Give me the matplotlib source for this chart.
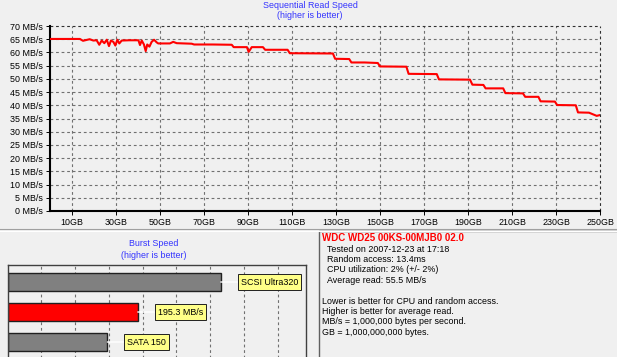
import matplotlib.pyplot as plt
from matplotlib.lines import Line2D
from matplotlib.patches import Rectangle

plt.rcParams['font.family'] = ['Liberation Sans', 'DejaVu Sans']

# sequential read curve (GB, MB/s)
gb = [0, 13.6, 15, 18, 19.7, 21.2, 22.4, 23.5, 24.7, 25.8, 26.8, 27.7, 28.8, 29.7,
      30.6, 31.5, 32.6, 36, 40.2, 40.9, 41.7, 42.7, 43.5, 44.2, 45.2, 46.2, 47.3,
      48.5, 49.2, 54.5, 56, 57.6, 64.4, 65.5, 74, 82.6, 83.5, 89.5, 90.3, 91.7,
      96.8, 97.8, 108, 109, 128.6, 129.6, 136, 137, 143, 149, 150, 162, 163,
      175.8, 176.8, 190.9, 192, 197, 198, 206, 207, 215, 216, 222, 223, 229.5,
      230.5, 239, 240, 245, 248.5, 250]
speed = [65.1, 65.1, 64.4, 65.0, 64.5, 64.6, 62.9, 64.5, 63.5, 64.8, 62.4, 64.5,
         64.0, 62.6, 64.8, 63.4, 64.5, 64.6, 64.6, 62.8, 64.5, 63.0, 60.5, 63.0,
         62.2, 64.0, 64.8, 63.8, 63.4, 63.4, 64.0, 63.5, 63.3, 63.0, 63.0, 62.9,
         62.0, 62.0, 60.2, 62.0, 62.0, 61.0, 61.0, 59.7, 59.6, 57.6, 57.5, 56.2,
         56.2, 56.0, 54.7, 54.6, 51.9, 51.8, 49.8, 49.7, 47.8, 47.7, 46.4, 46.4,
         44.6, 44.5, 43.2, 43.2, 41.5, 41.4, 40.1, 40.0, 37.3, 37.2, 36.0, 36.3]

y_ticks = list(range(0, 75, 5))
x_ticks = list(range(10, 260, 20))

# burst speed bars
burst_labels = ['SCSI Ultra320', '195.3 MB/s', 'SATA 150']
burst_values = [316, 193, 148]
burst_colors = ['#808080', '#ff0000', '#808080']

info_title = 'WDC WD25 00KS-00MJB0 02.0'
info_lines = ['Tested on 2007-12-23 at 17:18', 'Random access: 13.4ms',
              'CPU utilization: 2% (+/- 2%)', 'Average read: 55.5 MB/s']
note_lines = ['Lower is better for CPU and random access.',
              'Higher is better for average read.',
              'MB/s = 1,000,000 bytes per second.',
              'GB = 1,000,000,000 bytes.']

W, H = 617, 357
bg = '#f0f0f0'
blue = '#3333ff'
fs = 6.4

fig = plt.figure(figsize=(W / 100, H / 100), dpi=100, facecolor=bg)


def box(l, t, r, b):
    return [l / W, 1 - b / H, (r - l) / W, (b - t) / H]


# ---- sequential read chart
ax = fig.add_axes(box(50, 26, 600, 211))
ax.set_facecolor(bg)
ax.plot(gb, speed, color='#ff0000', lw=1.5, zorder=3)
ax.set_xlim(0, 250)
ax.set_ylim(0, 70)
ax.set_yticks(y_ticks)
ax.set_yticklabels([f'{v} MB/s' for v in y_ticks])
ax.set_xticks(x_ticks)
ax.set_xticklabels([f'{v}GB' for v in x_ticks])
ax.tick_params(labelsize=fs, length=3, width=0.7, pad=2, colors='black')
for v in y_ticks[1:-1]:
    ax.axhline(v, color='#707070', lw=0.8, ls=(0, (2.5, 2.5)), zorder=1)
for v in x_ticks[:-1]:
    ax.axvline(v, color='#707070', lw=0.8, ls=(0, (2.5, 2.5)), zorder=1)
for s in ['left', 'bottom']:
    ax.spines[s].set_linewidth(1.5)
for s in ['top', 'right']:
    ax.spines[s].set_visible(False)
ax.axhline(70, color='#303030', lw=0.8, ls=(0, (2.5, 2.5)), clip_on=False)
ax.axvline(250, color='#303030', lw=0.8, ls=(0, (2.5, 2.5)), clip_on=False)

fig.text(310 / W, 1 - 5 / H, 'Sequential Read Speed', color=blue, fontsize=fs,
         ha='center', va='center')
fig.text(310 / W, 1 - 16 / H, '(higher is better)', color=blue, fontsize=fs,
         ha='center', va='center')

# separator
fig.add_artist(Line2D([0, 1], [1 - 229 / H] * 2, color='#a0a0a0', lw=0.8))
fig.add_artist(Line2D([0, 1], [1 - 230.5 / H] * 2, color='white', lw=0.8))

# ---- burst speed chart
bx = fig.add_axes(box(7.5, 265, 306, 370))
bx.set_facecolor(bg)
bx.set_xlim(0, 298.5 / 0.675)
bx.set_ylim(2.933, -0.567)
for v in range(50, 450, 50):
    bx.axvline(v, color='#707070', lw=0.8, ls=(0, (2.5, 2.5)), zorder=0)
pos = list(range(len(burst_values)))
bx.barh(pos, burst_values, height=0.58, color=burst_colors,
        edgecolor='#202020', lw=1, zorder=2)
for i, (v, lab) in enumerate(zip(burst_values, burst_labels)):
    bx.annotate(lab, xy=(v, i), xytext=(20, 0), textcoords='offset pixels',
                ha='left', va='center', fontsize=fs, zorder=4,
                bbox=dict(boxstyle='square,pad=0.35', fc='#ffff88',
                          ec='#202020', lw=0.7),
                arrowprops=dict(arrowstyle='-', color='white', lw=1,
                                shrinkA=0, shrinkB=0))
bx.set_xticks([])
bx.set_yticks([])
for s in bx.spines.values():
    s.set_color('#404040')
    s.set_linewidth(1)

fig.text(154 / W, 1 - 243 / H, 'Burst Speed', color=blue, fontsize=fs,
         ha='center', va='center')
fig.text(154 / W, 1 - 255 / H, '(higher is better)', color=blue, fontsize=fs,
         ha='center', va='center')

# ---- info panel
fig.add_artist(Rectangle((319 / W, -0.1), 0.6, 1.1 - 231 / H,
                         transform=fig.transFigure, fc=bg, ec='#606060', lw=1))
fig.text(322 / W, 1 - 238 / H, info_title, color='#ff0000', fontsize=fs + 0.6,
         fontweight='bold', ha='left', va='center')
for k, t in enumerate(info_lines):
    fig.text(327 / W, 1 - (249 + 10.4 * k) / H, t, fontsize=fs,
             ha='left', va='center')
for k, t in enumerate(note_lines):
    fig.text(322 / W, 1 - (301 + 10.4 * k) / H, t, fontsize=fs,
             ha='left', va='center')

fig.savefig('out.png', dpi=100, facecolor=bg)
